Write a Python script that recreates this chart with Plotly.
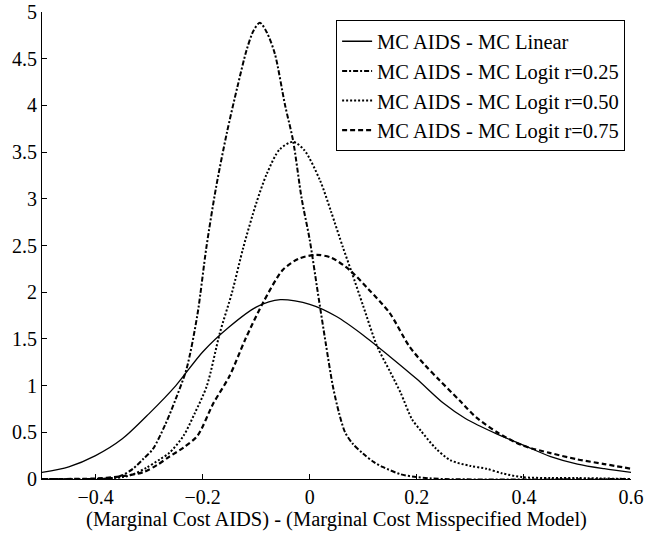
import plotly.graph_objects as go

# --- data ---
x_linear = [-0.5, -0.45, -0.4, -0.35, -0.3, -0.25, -0.2, -0.15, -0.1, -0.055, 0.0, 0.05, 0.1, 0.15, 0.2, 0.25, 0.29, 0.35, 0.4, 0.45, 0.5, 0.55, 0.6]
y_linear = [0.07, 0.13, 0.25, 0.43, 0.70, 1.00, 1.36, 1.63, 1.84, 1.92, 1.87, 1.74, 1.54, 1.31, 1.07, 0.81, 0.65, 0.48, 0.36, 0.24, 0.16, 0.11, 0.07]

x_r25 = [-0.5, -0.4, -0.37, -0.35, -0.33, -0.31, -0.293, -0.27, -0.25, -0.23, -0.21, -0.193, -0.175, -0.155, -0.135, -0.118, -0.105, -0.093, -0.08, -0.065, -0.046, -0.031, -0.015, 0.0, 0.015, 0.03, 0.043, 0.055, 0.066, 0.08, 0.1, 0.12, 0.136, 0.17, 0.2, 0.25, 0.6]
y_r25 = [0.0, 0.0, 0.01, 0.04, 0.11, 0.22, 0.32, 0.58, 0.86, 1.18, 1.75, 2.48, 3.12, 3.70, 4.20, 4.59, 4.80, 4.885, 4.78, 4.55, 4.00, 3.62, 3.00, 2.56, 2.00, 1.45, 1.00, 0.70, 0.50, 0.38, 0.27, 0.18, 0.13, 0.05, 0.02, 0.0, 0.0]

x_r50 = [-0.5, -0.4, -0.35, -0.33, -0.305, -0.28, -0.262, -0.236, -0.215, -0.192, -0.168, -0.145, -0.124, -0.1, -0.08, -0.056, -0.031, -0.01, 0.019, 0.04, 0.062, 0.078, 0.1, 0.126, 0.15, 0.17, 0.191, 0.207, 0.235, 0.263, 0.3, 0.33, 0.36, 0.397, 0.45, 0.5, 0.6]
y_r50 = [0.0, 0.0, 0.02, 0.05, 0.12, 0.21, 0.28, 0.46, 0.70, 1.00, 1.56, 2.00, 2.48, 2.95, 3.27, 3.53, 3.61, 3.52, 3.20, 2.86, 2.48, 2.22, 1.85, 1.42, 1.15, 0.92, 0.64, 0.52, 0.33, 0.20, 0.14, 0.11, 0.06, 0.02, 0.01, 0.01, 0.0]

x_r75 = [-0.5, -0.4, -0.35, -0.31, -0.285, -0.262, -0.235, -0.21, -0.18, -0.15, -0.12, -0.087, -0.05, -0.02, 0.013, 0.04, 0.074, 0.11, 0.149, 0.186, 0.215, 0.242, 0.28, 0.311, 0.35, 0.397, 0.448, 0.5, 0.55, 0.6]
y_r75 = [0.0, 0.005, 0.03, 0.075, 0.15, 0.24, 0.34, 0.46, 0.81, 1.10, 1.50, 1.89, 2.24, 2.36, 2.40, 2.37, 2.24, 2.03, 1.78, 1.42, 1.22, 1.06, 0.84, 0.66, 0.50, 0.36, 0.28, 0.21, 0.16, 0.11]

names = ["MC AIDS - MC Linear", "MC AIDS - MC Logit r=0.25",
         "MC AIDS - MC Logit r=0.50", "MC AIDS - MC Logit r=0.75"]

x_ticks = [-0.4, -0.2, 0, 0.2, 0.4, 0.6]
y_ticks = [0, 0.5, 1, 1.5, 2, 2.5, 3, 3.5, 4, 4.5, 5]
y_ticktext = ["0", "0.5", "1", "1.5", "2", "2.5", "3", "3.5", "4", "4.5", "5"]
x_ticktext = ["\u22120.4", "\u22120.2", "0", "0.2", "0.4", "0.6"]

FONT = "Liberation Serif, Times New Roman, serif"

fig = go.Figure()
series = [
    (x_linear, y_linear, "solid", 1.3),
    (x_r25, y_r25, "5px,2px,2px,2px", 2.0),
    (x_r50, y_r50, "2px,2px", 2.0),
    (x_r75, y_r75, "5px,3px", 2.2),
]
for (xs, ys, dash, w), name in zip(series, names):
    fig.add_trace(go.Scatter(
        x=xs, y=ys, mode="lines", name=name,
        line=dict(color="black", width=w, dash=dash, shape="spline", smoothing=0.8),
    ))

fig.update_layout(
    width=646, height=542,
    margin=dict(l=42, r=15, t=12, b=63, autoexpand=False),
    paper_bgcolor="white", plot_bgcolor="white",
    font=dict(family=FONT, size=20, color="black"),
    showlegend=True,
    legend=dict(
        x=0.99, y=0.982, xanchor="right", yanchor="top",
        bgcolor="white", bordercolor="black", borderwidth=1,
        font=dict(family=FONT, size=20.5, color="black"),
        tracegroupgap=0,
    ),
    xaxis=dict(
        range=[-0.5, 0.6], tickvals=x_ticks, ticktext=x_ticktext,
        showgrid=False, zeroline=False, showline=True, linecolor="black", linewidth=1,
        ticks="inside", ticklen=5, tickcolor="black", automargin=False,
        title=dict(text="(Marginal Cost AIDS) - (Marginal Cost Misspecified Model)",
                   font=dict(family=FONT, size=20.5), standoff=4),
        tickfont=dict(family=FONT, size=20),
    ),
    yaxis=dict(
        range=[0, 5], tickvals=y_ticks, ticktext=y_ticktext,
        showgrid=False, zeroline=False, showline=True, linecolor="black", linewidth=1,
        ticks="inside", ticklen=5, tickcolor="black", automargin=False,
        tickfont=dict(family=FONT, size=20),
    ),
)

fig.write_html("out.html")
